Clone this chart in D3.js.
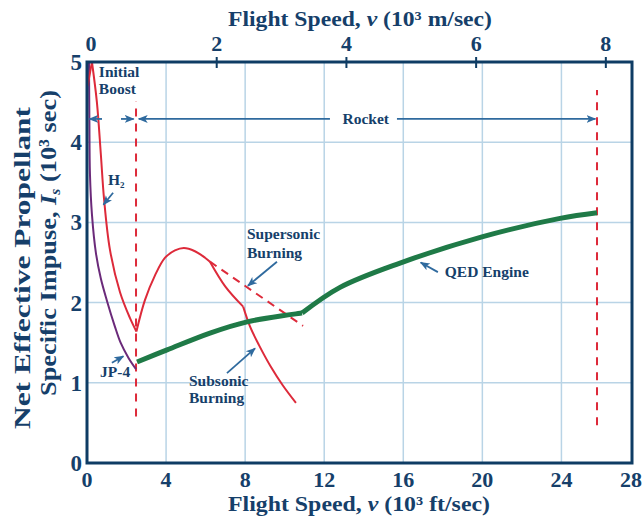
<!DOCTYPE html>
<html>
<head>
<meta charset="utf-8">
<script src="https://cdn.jsdelivr.net/npm/d3@7"></script>
<style>
  body { margin: 0; background: #fff; }
  svg text { font-family: "Liberation Serif", "DejaVu Serif", serif; font-weight: bold; fill: #163f6a; }
</style>
</head>
<body>
<div id="container"></div>
<script>
// data, x in 10^3 ft/sec, y in 10^3 sec
const ftTicks = [0, 4, 8, 12, 16, 20, 24, 28];
const msTicks = [0, 2, 4, 6, 8];
const yTicks = [0, 1, 2, 3, 4, 5];

const jp4 = [[0.1, 5.0], [0.12, 4.3], [0.15, 3.6], [0.25, 3.1], [0.45, 2.62], [0.7, 2.3], [1.0, 2.03], [1.4, 1.71], [1.7, 1.5], [2.1, 1.31], [2.48, 1.17]];
const h2Start = [[0.03, 4.7], [0.25, 5.0]];
const h2 = [[0.25, 5.0], [0.5, 4.5], [0.7, 3.85], [0.86, 3.3], [1.16, 2.66], [1.67, 2.13], [2.17, 1.81], [2.5, 1.64]];
const hump = [[2.5, 1.64], [2.93, 2.03], [3.44, 2.34], [3.95, 2.56], [4.45, 2.65], [4.9, 2.68], [5.46, 2.64], [5.97, 2.56], [6.22, 2.51]];
const subsonicA = [[6.22, 2.51], [7.0, 2.2], [7.9, 1.95]];
const subsonicB = [[7.9, 1.95], [8.25, 1.7], [8.7, 1.47], [9.3, 1.2], [9.9, 0.97], [10.57, 0.75]];
const supersonic = [[6.22, 2.51], [10.93, 1.71]];
const qedLow = [[2.53, 1.26], [4.05, 1.41], [6.22, 1.62], [8.1, 1.76], [10.88, 1.87]];
const qedHigh = [[10.88, 1.87], [12.8, 2.19], [15.8, 2.49], [19.98, 2.82], [23.93, 3.05], [25.8, 3.12]];
const boostLine = [[2.48, 0.58], [2.48, 4.51]];
const rocketLine = [[25.8, 0.47], [25.8, 4.65]];

const width = 643, height = 520;
const mLeft = 87, mRight = 632, mTop = 62, mBottom = 463;

const x = d3.scaleLinear().domain([0, 27.57]).range([mLeft, mRight]);
const y = d3.scaleLinear().domain([0, 5]).range([mBottom, mTop]);
const ftPerM = 3.28084;

const svg = d3.select("#container").append("svg")
  .attr("width", width).attr("height", height);

const defs = svg.append("defs");
defs.append("marker")
  .attr("id", "arr").attr("viewBox", "0 0 10 10")
  .attr("refX", 9).attr("refY", 5)
  .attr("markerWidth", 5.5).attr("markerHeight", 5.5)
  .attr("markerUnits", "strokeWidth")
  .attr("orient", "auto")
  .append("path").attr("d", "M0,1 L10,5 L0,9 L2.5,5 Z").attr("fill", "#2f6a9e");

// grid
svg.append("g").selectAll("line")
  .data(ftTicks.filter(d => d > 0 && d < 28))
  .join("line")
  .attr("x1", d => x(d)).attr("x2", d => x(d))
  .attr("y1", mTop).attr("y2", mBottom)
  .attr("stroke", "#b9d4e6").attr("stroke-width", 1.5);
svg.append("g").selectAll("line")
  .data(yTicks.filter(d => d > 0 && d < 5))
  .join("line")
  .attr("x1", mLeft).attr("x2", mRight)
  .attr("y1", d => y(d)).attr("y2", d => y(d))
  .attr("stroke", "#b9d4e6").attr("stroke-width", 1.5);

const line = d3.line().x(d => x(d[0])).y(d => y(d[1]));
const smooth = d3.line().x(d => x(d[0])).y(d => y(d[1])).curve(d3.curveCatmullRom.alpha(0.5));

const red = "#dd2a3a";
// dashed verticals
[boostLine, rocketLine].forEach(p => {
  svg.append("path").attr("d", line(p)).attr("fill", "none")
    .attr("stroke", red).attr("stroke-width", 2).attr("stroke-dasharray", "8,7");
});
svg.append("path").attr("d", line(supersonic)).attr("fill", "none")
  .attr("stroke", red).attr("stroke-width", 2).attr("stroke-dasharray", "8,6");

svg.append("path").attr("d", smooth(jp4)).attr("fill", "none")
  .attr("stroke", "#6b2a7a").attr("stroke-width", 2);
[h2Start, h2, hump, subsonicA, subsonicB].forEach(p => {
  svg.append("path").attr("d", smooth(p)).attr("fill", "none")
    .attr("stroke", red).attr("stroke-width", 2);
});
[qedLow, qedHigh].forEach(p => {
  svg.append("path").attr("d", smooth(p)).attr("fill", "none")
    .attr("stroke", "#1f7a47").attr("stroke-width", 5).attr("stroke-linecap", "butt");
});

// frame
svg.append("rect").attr("x", mLeft).attr("y", mTop)
  .attr("width", mRight - mLeft).attr("height", mBottom - mTop)
  .attr("fill", "none").attr("stroke", "#0e3c64").attr("stroke-width", 3);

// top ticks (m/sec)
svg.append("g").selectAll("line")
  .data(msTicks.filter(d => d > 0))
  .join("line")
  .attr("x1", d => x(d * ftPerM)).attr("x2", d => x(d * ftPerM))
  .attr("y1", mTop - 5).attr("y2", mTop + 6)
  .attr("stroke", "#0e3c64").attr("stroke-width", 2);
svg.append("g").selectAll("text")
  .data(msTicks)
  .join("text")
  .attr("x", d => d === 0 ? x(0) + 4 : x(d * ftPerM))
  .attr("y", 51).attr("text-anchor", "middle").attr("font-size", 22)
  .text(d => d);

// bottom tick labels
svg.append("g").selectAll("text")
  .data(ftTicks)
  .join("text")
  .attr("x", d => d === 28 ? mRight - 1 : x(d))
  .attr("y", 487).attr("text-anchor", "middle").attr("font-size", 22)
  .text(d => d);

// left tick labels
svg.append("g").selectAll("text")
  .data(yTicks)
  .join("text")
  .attr("x", 82).attr("y", d => y(d) + 8)
  .attr("text-anchor", "end").attr("font-size", 23)
  .text(d => d);

// axis titles
const tTop = svg.append("text").attr("x", 360).attr("y", 26)
  .attr("text-anchor", "middle").attr("font-size", 22)
  .attr("textLength", 264).attr("lengthAdjust", "spacingAndGlyphs");
tTop.append("tspan").text("Flight Speed, ");
tTop.append("tspan").attr("font-style", "italic").text("v");
tTop.append("tspan").text(" (10³ m/sec)");

const tBot = svg.append("text").attr("x", 359).attr("y", 511)
  .attr("text-anchor", "middle").attr("font-size", 22)
  .attr("textLength", 262).attr("lengthAdjust", "spacingAndGlyphs");
tBot.append("tspan").text("Flight Speed, ");
tBot.append("tspan").attr("font-style", "italic").text("v");
tBot.append("tspan").text(" (10³ ft/sec)");

svg.append("text").attr("transform", "translate(30,268) rotate(-90)")
  .attr("text-anchor", "middle").attr("font-size", 24)
  .attr("textLength", 322).attr("lengthAdjust", "spacingAndGlyphs")
  .text("Net Effective Propellant");
const tY = svg.append("text").attr("transform", "translate(56,243) rotate(-90)")
  .attr("text-anchor", "middle").attr("font-size", 24)
  .attr("textLength", 306).attr("lengthAdjust", "spacingAndGlyphs");
tY.append("tspan").text("Specific Impuse, ");
tY.append("tspan").attr("font-style", "italic").text("I");
tY.append("tspan").attr("font-style", "italic").attr("font-size", 14).attr("dy", 4).text("s");
tY.append("tspan").attr("dy", -4).text(" (10³ sec)");

// annotations
const arrows = [
  [[0.76, 4.29], [0.12, 4.29]],
  [[1.72, 4.29], [2.36, 4.29]],
  [[12.29, 4.29], [2.62, 4.29]],
  [[15.68, 4.29], [25.72, 4.29]],
  [[1.32, 3.37], [0.83, 3.22]],
  [[1.26, 1.25], [1.84, 1.33]],
  [[7.08, 1.12], [8.5, 1.43]],
  [[9.61, 2.51], [8.14, 2.21]],
  [[17.75, 2.38], [16.88, 2.5]]
];
svg.append("g").selectAll("path")
  .data(arrows)
  .join("path")
  .attr("d", d => line(d))
  .attr("stroke", "#2f6a9e").attr("stroke-width", 1.8).attr("fill", "none")
  .attr("marker-end", "url(#arr)");

const labels = [
  [0.6, 4.81, "Initial"], [0.6, 4.6, "Boost"],
  [5.16, 0.96, "Subsonic"], [5.16, 0.75, "Burning"],
  [8.09, 2.79, "Supersonic"], [8.09, 2.56, "Burning"],
  [18.1, 2.32, "QED Engine"],
  [0.66, 1.07, "JP-4"]
];
svg.append("g").selectAll("text")
  .data(labels)
  .join("text")
  .attr("x", d => x(d[0])).attr("y", d => y(d[1]))
  .attr("font-size", 15.5)
  .text(d => d[2]);

svg.append("text").attr("x", x(14.1)).attr("y", y(4.29) + 5)
  .attr("text-anchor", "middle").attr("font-size", 15.5).text("Rocket");

const h2Label = svg.append("text").attr("x", x(1.06)).attr("y", y(3.47)).attr("font-size", 15.5);
h2Label.append("tspan").text("H");
h2Label.append("tspan").attr("font-size", 9).attr("dy", 3).text("2");
</script>
</body>
</html>
